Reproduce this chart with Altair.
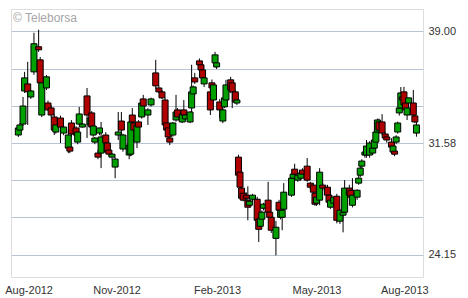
import altair as alt
import pandas as pd

# trading-day index, open, high, low, close
days = [1, 2, 4, 5, 7, 9, 11, 14, 15, 16, 19, 20, 22, 24, 25, 28, 30, 33, 34, 35,
        38, 39, 40, 42, 45, 47, 48, 49, 50, 52, 53, 54, 57, 58, 59, 61, 63, 65, 67, 68,
        72, 73, 74, 75, 77, 78, 80, 81, 84, 86, 89, 91, 93, 95, 96, 97, 98, 100, 102, 103,
        106, 107, 108, 111, 112, 113, 114, 117, 118, 119, 120, 124, 125, 126, 127, 128, 130, 132, 133, 134,
        137, 138, 140, 141, 142, 143, 144, 145, 147, 148, 149, 151, 154, 155, 156, 157, 158, 161, 162, 163,
        166, 168, 169, 170, 171, 176, 177, 178, 180, 182, 183, 186, 188, 190, 191, 192, 194, 196, 199, 200,
        201, 203, 205, 207, 209, 210, 213, 214, 215, 218, 219, 220, 221, 223, 224, 226, 228, 229, 230, 231,
        232, 234, 236, 237, 240, 241, 242, 243, 244, 245, 246, 247, 248, 249, 250, 251, 254, 255, 256]
opens = [32.11, 32.44, 32.84, 35.04, 35.51, 34.64, 36.31, 37.98, 37.11, 33.44, 35.24, 34.24, 33.91, 33.31, 32.31, 33.24, 32.24, 31.24, 31.31, 32.91,
         32.58, 31.64, 32.84, 32.64, 34.71, 32.78, 33.58, 32.11, 31.64, 30.91, 32.24, 30.91, 32.11, 31.58, 31.11, 30.64, 29.98, 32.11, 33.04, 31.18,
         30.78, 30.84, 33.44, 32.91, 31.64, 32.98, 33.31, 34.51, 33.44, 34.11, 36.24, 35.24, 34.98, 34.44, 32.91, 32.58, 31.91, 32.11, 33.11, 33.78,
         32.98, 33.78, 33.18, 32.98, 33.91, 34.84, 35.91, 37.04, 36.78, 36.44, 35.51, 34.98, 35.58, 34.44, 36.91, 36.64, 34.31, 33.04, 33.98, 34.44,
         35.78, 35.58, 34.98, 34.24, 30.64, 29.64, 28.58, 28.24, 28.11, 27.78, 27.44, 27.84, 27.84, 26.51, 26.04, 26.51, 27.24, 27.78, 26.98, 26.64,
         25.24, 27.64, 26.64, 26.64, 27.18, 28.11, 29.24, 29.84, 29.11, 29.24, 29.78, 30.04, 28.91, 28.78, 28.24, 27.58, 27.78, 28.78, 28.64, 28.11,
         27.31, 27.58, 28.04, 26.38, 26.78, 26.98, 28.58, 28.44, 27.44, 27.98, 28.91, 29.44, 30.04, 30.78, 30.78, 30.78, 30.91, 31.24, 31.64, 32.31,
         32.98, 32.98, 32.18, 31.98, 31.64, 30.98, 31.04, 31.64, 32.31, 33.58, 33.91, 34.64, 34.98, 34.24, 33.44, 34.24, 34.24, 33.38, 32.24]
highs = [32.71, 32.91, 34.64, 36.31, 36.98, 35.11, 38.91, 39.11, 37.30, 35.71, 36.10, 34.40, 34.10, 33.50, 32.90, 33.40, 32.80, 32.44, 31.40, 33.10,
         32.70, 32.40, 33.98, 32.90, 35.24, 33.30, 33.70, 32.80, 31.98, 31.10, 32.60, 32.98, 32.30, 31.70, 31.20, 30.90, 30.64, 33.64, 33.64, 32.20,
         31.50, 33.00, 33.90, 33.00, 32.90, 33.10, 34.50, 34.78, 33.90, 34.60, 37.11, 35.40, 35.10, 34.60, 33.00, 32.70, 32.00, 32.98, 34.78, 33.90,
         33.60, 34.44, 33.50, 33.70, 36.78, 35.40, 36.24, 37.20, 36.90, 36.50, 36.00, 35.20, 35.80, 35.50, 37.64, 36.95, 34.50, 33.90, 34.60, 35.78,
         35.98, 35.70, 35.10, 34.50, 30.80, 29.70, 28.70, 28.40, 28.30, 28.70, 27.80, 28.20, 28.00, 26.60, 26.64, 27.10, 27.60, 29.00, 27.10, 26.70,
         26.40, 27.80, 27.20, 27.30, 28.91, 29.30, 29.60, 30.20, 29.50, 29.70, 29.90, 30.58, 29.00, 28.90, 28.30, 28.00, 29.91, 28.90, 28.80, 28.20,
         27.90, 28.00, 28.20, 27.20, 27.10, 29.11, 28.80, 28.60, 29.24, 28.50, 29.78, 30.10, 30.50, 31.10, 31.78, 31.70, 31.30, 31.90, 32.50, 33.20,
         33.20, 33.50, 32.30, 32.10, 31.90, 31.50, 31.10, 32.10, 33.00, 34.00, 35.30, 34.80, 35.31, 34.40, 34.00, 34.60, 35.11, 33.50, 33.00]
lows = [31.98, 32.38, 32.71, 34.91, 32.78, 34.51, 36.11, 37.64, 35.44, 33.30, 35.10, 33.70, 33.30, 32.11, 32.20, 31.58, 32.10, 30.91, 30.90, 32.00,
        31.98, 31.50, 32.78, 32.60, 31.91, 32.70, 32.50, 32.00, 31.50, 30.50, 32.10, 29.91, 31.50, 30.90, 30.70, 30.50, 29.24, 31.78, 31.31, 31.00,
        30.50, 30.70, 32.90, 32.30, 31.24, 32.50, 33.20, 33.90, 32.78, 34.00, 35.20, 34.90, 34.50, 32.60, 32.30, 31.90, 31.44, 32.00, 33.00, 33.10,
        32.90, 33.30, 33.10, 32.90, 33.58, 34.70, 35.50, 36.70, 36.30, 35.80, 35.30, 33.44, 35.10, 34.30, 36.60, 36.50, 33.24, 32.90, 33.90, 34.30,
        34.90, 33.90, 34.20, 34.10, 29.30, 28.60, 27.78, 27.70, 27.90, 26.44, 27.30, 27.70, 26.30, 25.00, 25.90, 26.40, 27.10, 26.90, 26.50, 25.60,
        24.11, 27.00, 26.50, 25.78, 27.00, 28.00, 29.10, 29.40, 29.00, 29.10, 29.40, 29.00, 28.50, 28.20, 27.40, 27.40, 27.44, 28.40, 28.00, 27.50,
        27.20, 27.40, 26.24, 26.20, 25.64, 26.80, 28.00, 27.90, 27.30, 27.80, 28.80, 29.30, 29.90, 30.60, 30.60, 30.60, 30.80, 31.10, 31.50, 32.20,
        32.30, 32.10, 31.80, 31.60, 31.20, 30.80, 30.70, 31.50, 32.20, 33.40, 33.80, 34.30, 33.90, 33.60, 33.11, 34.10, 33.30, 32.90, 32.00]
closes = [32.58, 32.78, 34.04, 35.91, 34.98, 35.04, 38.18, 37.78, 35.58, 35.58, 35.98, 33.78, 33.44, 32.44, 32.78, 32.64, 32.64, 32.11, 31.04, 32.18,
          32.11, 32.31, 33.51, 32.84, 33.44, 33.24, 32.64, 32.71, 31.91, 30.64, 32.58, 31.98, 31.58, 30.98, 30.84, 30.84, 30.51, 32.31, 32.44, 32.11,
          31.44, 32.98, 32.98, 32.44, 32.78, 32.64, 34.24, 34.04, 33.78, 34.51, 35.38, 34.98, 34.58, 32.78, 32.44, 31.98, 31.64, 32.91, 33.64, 33.31,
          33.51, 33.44, 33.44, 33.64, 34.98, 35.31, 35.64, 36.78, 36.44, 35.91, 35.91, 33.78, 35.24, 35.44, 37.44, 36.91, 33.78, 33.78, 34.58, 35.44,
          35.11, 34.98, 34.31, 34.44, 29.44, 28.64, 27.91, 27.78, 27.91, 27.31, 27.71, 28.11, 26.44, 25.84, 26.58, 26.98, 27.51, 26.98, 26.64, 25.78,
          25.98, 27.11, 27.11, 27.11, 28.31, 29.24, 29.51, 29.51, 29.44, 29.58, 29.51, 29.11, 28.64, 28.31, 27.51, 27.98, 29.64, 28.58, 28.11, 27.64,
          27.78, 27.98, 26.44, 27.11, 26.98, 28.58, 28.11, 27.98, 28.11, 28.44, 29.24, 29.91, 30.38, 30.98, 31.38, 31.58, 31.24, 31.78, 32.31, 33.11,
          32.44, 32.24, 31.91, 31.78, 31.31, 31.38, 30.84, 31.98, 32.91, 33.91, 34.91, 34.44, 34.11, 33.78, 33.91, 34.58, 33.44, 32.98, 32.78]

# axis ticks
y_grid_values = [24.15, 26.627, 29.103, 31.58, 34.053, 36.527, 39.0]
y_labeled = ["24.15", "31.58", "39.00"]
x_tick_days = [7.6, 63.9, 128.25, 192, 248.25]
x_tick_labels = ["Aug-2012", "Nov-2012", "Feb-2013", "May-2013", "Aug-2013"]

GRID = "#b8c4d4"
FONT = "Liberation Sans"

df = pd.DataFrame({"day": days, "open": opens, "high": highs, "low": lows, "close": closes})
df["dir"] = ["up" if c >= o else "down" for o, c in zip(opens, closes)]

# x label expression from the tick lists
parts = []
for i in range(len(x_tick_days) - 1):
    mid = (x_tick_days[i] + x_tick_days[i + 1]) / 2
    parts.append(f"datum.value < {mid} ? '{x_tick_labels[i]}' : ")
x_expr = "".join(parts) + f"'{x_tick_labels[-1]}'"

y_cond = " || ".join(f"format(datum.value, '.2f') == '{s}'" for s in y_labeled)
y_expr = f"({y_cond}) ? format(datum.value, '.2f') : ''"

x_enc = alt.X(
    "day:Q",
    scale=alt.Scale(domain=[-0.5, 257], nice=False, zero=False),
    axis=alt.Axis(values=x_tick_days, labelExpr=x_expr, grid=False, ticks=False,
                  domain=False, title=None, labelFontSize=11, labelPadding=7,
                  labelColor="#333333", labelFlush=False, labelOverlap=False, labelFont=FONT),
)
y_scale = alt.Scale(domain=[22.67, 40.49], nice=False, zero=False)

wicks = alt.Chart(df).mark_rule(color="black", strokeWidth=1).encode(
    x=x_enc,
    y=alt.Y("low:Q", scale=y_scale,
            axis=alt.Axis(orient="right", values=y_grid_values, labelExpr=y_expr, grid=True,
                          gridColor=GRID, gridWidth=1, ticks=False, domain=False, title=None,
                          labelFontSize=11, labelPadding=5, labelColor="#333333",
                          labelFlush=False, labelOverlap=False, labelFont=FONT)),
    y2="high:Q",
)

bodies = alt.Chart(df).mark_bar(size=6, stroke="black", strokeWidth=1).encode(
    x="day:Q",
    y="open:Q",
    y2="close:Q",
    color=alt.Color("dir:N", scale=alt.Scale(domain=["up", "down"], range=["#00a000", "#b00000"]),
                    legend=None),
)

mark_text_df = pd.DataFrame({"t": ["© Teleborsa"]})
watermark = alt.Chart(mark_text_df).mark_text(
    align="left", baseline="middle", fontSize=12, color="#a6a6a6", font=FONT
).encode(text="t:N", x=alt.value(2), y=alt.value(9))

chart = alt.layer(wicks, bodies, watermark).properties(
    width=412, height=268,
    autosize=alt.AutoSizeParams(type="none"),
    padding={"left": 11, "top": 9, "right": 45, "bottom": 21},
    background="white",
).configure_view(stroke=GRID, strokeWidth=1).configure(font=FONT)

chart.save("out.html", embed_options={"renderer": "svg", "actions": False})
